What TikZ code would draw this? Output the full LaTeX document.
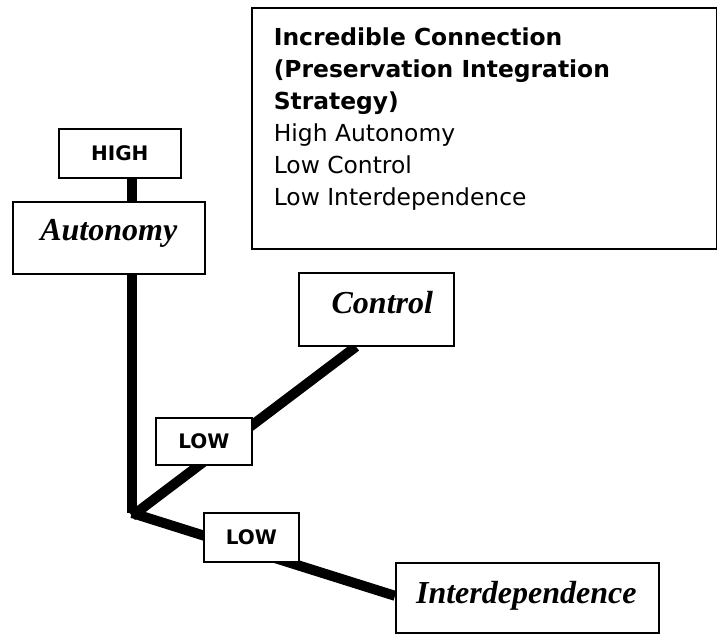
\documentclass[tikz,border=0pt]{standalone}
\usepackage{fontspec}
\setmainfont{Liberation Serif}
\setsansfont{DejaVu Sans}
\usetikzlibrary{backgrounds}
\begin{document}
\begin{tikzpicture}[x=1pt,y=-1pt,
  box/.style={draw=black, line width=1.6pt, fill=white, inner sep=0pt, anchor=north west},
  lbl/.style={box, font=\sffamily\bfseries\fontsize{20}{23}\selectfont},
  big/.style={box, font=\rmfamily\bfseries\itshape\fontsize{32}{36}\selectfont},
  bar/.style={line width=10pt, black, line cap=butt}]
\useasboundingbox (0,0) rectangle (717,633);

\node[box, text height=38pt, text depth=203pt, inner xsep=22pt] (info) at (251,7)
  {\parbox[t]{421pt}{\sffamily\fontsize{23.4}{32}\selectfont\raggedright
   \textbf{Incredible Connection}\\
   \textbf{(Preservation Integration}\\
   \textbf{Strategy)}\\
   High Autonomy\\
   Low Control\\
   Low Interdependence}};

\node[lbl, minimum width=122pt, minimum height=49pt] (high) at (58,128) {HIGH};
\node[big, minimum width=192pt, text height=39pt, text depth=33pt] (auto) at (12,201) {Autonomy};
\node[big, minimum width=155pt, text height=41pt, text depth=32pt] (ctrl) at (298,272) {\hspace*{12pt}Control};
\node[big, minimum width=263pt, text height=41pt, text depth=29pt] (inter) at (395,562) {Interdependence\hspace*{2pt}};
\node[lbl, minimum width=96pt, minimum height=47pt] (low1) at (155,417) {LOW};
\node[lbl, minimum width=95pt, minimum height=49pt] (low2) at (203,512) {LOW};

\coordinate (J) at (132,513);

\begin{pgfonlayer}{background}
  \draw[bar] (high.south -| J) -- (auto.north -| J);
  \draw[bar] (auto.south -| J) -- (J);
  \draw[bar] ([yshift=-3pt]J) -- ([xshift=58pt]ctrl.south west);
  \draw[bar] (J) -- ([yshift=2pt]inter.west);
\end{pgfonlayer}
\end{tikzpicture}
\end{document}
